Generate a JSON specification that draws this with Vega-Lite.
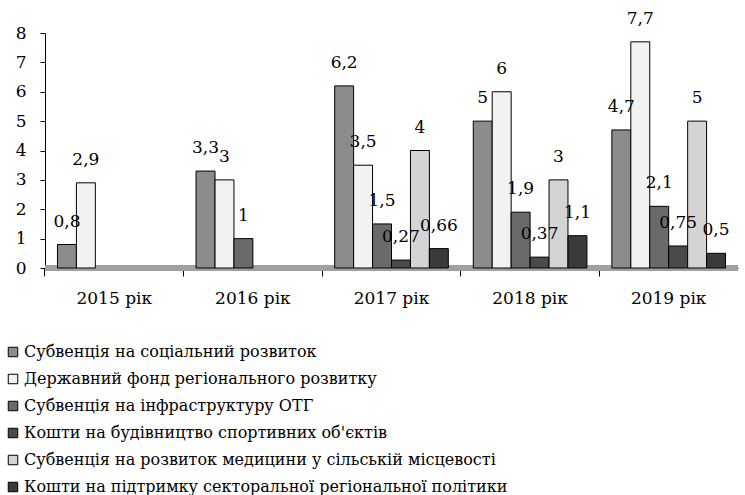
{
  "$schema": "https://vega.github.io/schema/vega-lite/v6.json",
  "width": 693,
  "height": 235,
  "autosize": "none",
  "padding": {"left": 45, "top": 33, "right": 7, "bottom": 227},
  "config": {
    "view": {"stroke": null}
  },
  "data": {
    "values": [
      {"year": "2015 рік", "series": "Субвенція на соціальний розвиток", "value": 0.8, "label": "0,8"},
      {"year": "2015 рік", "series": "Державний фонд регіонального розвитку", "value": 2.9, "label": "2,9"},
      {"year": "2016 рік", "series": "Субвенція на соціальний розвиток", "value": 3.3, "label": "3,3"},
      {"year": "2016 рік", "series": "Державний фонд регіонального розвитку", "value": 3, "label": "3"},
      {"year": "2016 рік", "series": "Субвенція на інфраструктуру ОТГ", "value": 1, "label": "1"},
      {"year": "2017 рік", "series": "Субвенція на соціальний розвиток", "value": 6.2, "label": "6,2"},
      {"year": "2017 рік", "series": "Державний фонд регіонального розвитку", "value": 3.5, "label": "3,5"},
      {"year": "2017 рік", "series": "Субвенція на інфраструктуру ОТГ", "value": 1.5, "label": "1,5"},
      {"year": "2017 рік", "series": "Кошти на будівництво спортивних об'єктів", "value": 0.27, "label": "0,27"},
      {"year": "2017 рік", "series": "Субвенція на розвиток медицини у сільській місцевості", "value": 4, "label": "4"},
      {"year": "2017 рік", "series": "Кошти на підтримку секторальної регіональної політики", "value": 0.66, "label": "0,66"},
      {"year": "2018 рік", "series": "Субвенція на соціальний розвиток", "value": 5, "label": "5"},
      {"year": "2018 рік", "series": "Державний фонд регіонального розвитку", "value": 6, "label": "6"},
      {"year": "2018 рік", "series": "Субвенція на інфраструктуру ОТГ", "value": 1.9, "label": "1,9"},
      {"year": "2018 рік", "series": "Кошти на будівництво спортивних об'єктів", "value": 0.37, "label": "0,37"},
      {"year": "2018 рік", "series": "Субвенція на розвиток медицини у сільській місцевості", "value": 3, "label": "3"},
      {"year": "2018 рік", "series": "Кошти на підтримку секторальної регіональної політики", "value": 1.1, "label": "1,1"},
      {"year": "2019 рік", "series": "Субвенція на соціальний розвиток", "value": 4.7, "label": "4,7"},
      {"year": "2019 рік", "series": "Державний фонд регіонального розвитку", "value": 7.7, "label": "7,7"},
      {"year": "2019 рік", "series": "Субвенція на інфраструктуру ОТГ", "value": 2.1, "label": "2,1"},
      {"year": "2019 рік", "series": "Кошти на будівництво спортивних об'єктів", "value": 0.75, "label": "0,75"},
      {"year": "2019 рік", "series": "Субвенція на розвиток медицини у сільській місцевості", "value": 5, "label": "5"},
      {"year": "2019 рік", "series": "Кошти на підтримку секторальної регіональної політики", "value": 0.5, "label": "0,5"}
    ]
  },
  "encoding": {
    "x": {
      "field": "year",
      "type": "nominal",
      "scale": {"paddingInner": 0.18, "paddingOuter": 0.09},
      "axis": {
        "title": null,
        "labelAngle": 0,
        "labelFont": "DejaVu Serif",
        "labelFontSize": 17,
        "labelColor": "black",
        "labelPadding": 14,
        "domainColor": "black",
        "tickColor": "black",
        "tickSize": 8,
        "bandPosition": -0.11
      }
    },
    "xOffset": {
      "field": "series",
      "type": "nominal",
      "sort": [
        "Субвенція на соціальний розвиток",
        "Державний фонд регіонального розвитку",
        "Субвенція на інфраструктуру ОТГ",
        "Кошти на будівництво спортивних об'єктів",
        "Субвенція на розвиток медицини у сільській місцевості",
        "Кошти на підтримку секторальної регіональної політики"
      ],
      "scale": {"paddingInner": 0}
    },
    "y": {
      "field": "value",
      "type": "quantitative",
      "scale": {"domain": [0, 8]},
      "axis": {
        "title": null,
        "values": [0, 1, 2, 3, 4, 5, 6, 7, 8],
        "grid": false,
        "labelFont": "DejaVu Serif",
        "labelFontSize": 17,
        "labelColor": "black",
        "labelPadding": 14,
        "domainColor": "black",
        "tickColor": "black",
        "tickSize": 5
      }
    }
  },
  "layer": [
    {
      "mark": {"type": "rule", "stroke": "#a0a0a0", "strokeWidth": 5},
      "encoding": {"y": {"datum": 0, "type": "quantitative"}, "x": null, "xOffset": null}
    },
    {
      "mark": {"type": "bar", "stroke": "black", "strokeWidth": 1},
      "encoding": {
        "fill": {
          "field": "series",
          "type": "nominal",
          "scale": {
            "domain": [
              "Субвенція на соціальний розвиток",
              "Державний фонд регіонального розвитку",
              "Субвенція на інфраструктуру ОТГ",
              "Кошти на будівництво спортивних об'єктів",
              "Субвенція на розвиток медицини у сільській місцевості",
              "Кошти на підтримку секторальної регіональної політики"
            ],
            "range": ["#8c8c8c", "#f2f2f2", "#6a6a6a", "#4a4a4a", "#d4d4d4", "#3a3a3a"]
          },
          "legend": {
            "title": null,
            "orient": "none",
            "legendX": -40,
            "legendY": 311,
            "direction": "vertical",
            "columns": 1,
            "symbolType": "square",
            "symbolSize": 90,
            "symbolStrokeColor": "black",
            "symbolStrokeWidth": 1,
            "labelFont": "DejaVu Serif",
            "labelFontSize": 16,
            "labelColor": "black",
            "labelLimit": 700,
            "labelOffset": 3,
            "rowPadding": 11,
            "padding": 0
          }
        }
      }
    },
    {
      "mark": {"type": "text", "font": "DejaVu Serif", "fontSize": 17, "color": "black", "dy": -14, "baseline": "bottom"},
      "encoding": {
        "text": {"field": "label"}
      }
    }
  ]
}
